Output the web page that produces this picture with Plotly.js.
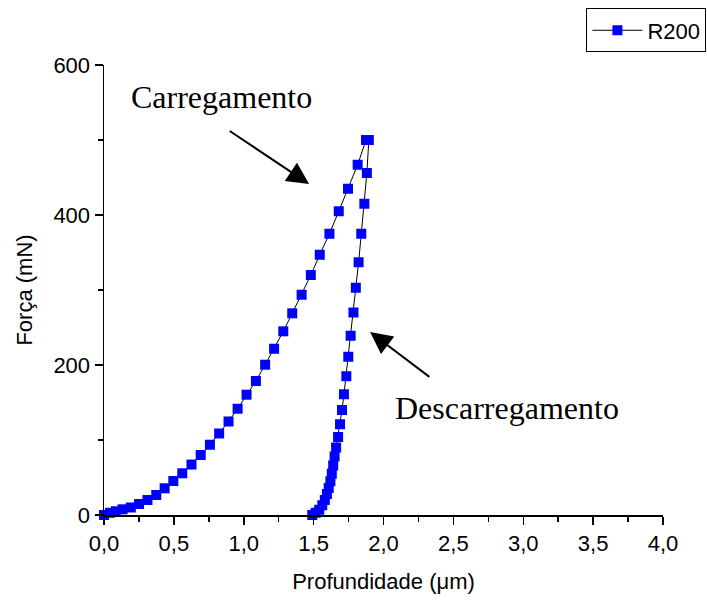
<!DOCTYPE html>
<html>
<head>
<meta charset="utf-8">
<script src="https://cdn.plot.ly/plotly-3.0.1.min.js"></script>
<style>html,body{margin:0;padding:0;background:#fff;}#chart{width:707px;height:601px;}</style>
</head>
<body>
<div id="chart"></div>
<script>
// Loading curve (Carregamento)
var loadDepth = [0.000, 0.043, 0.085, 0.133, 0.192, 0.251, 0.311, 0.374, 0.434, 0.496, 0.560, 0.626, 0.692, 0.758, 0.824, 0.891, 0.956, 1.020, 1.087, 1.153, 1.217, 1.283, 1.347, 1.414, 1.480, 1.544, 1.613, 1.680, 1.746, 1.815, 1.875];
var loadForce = [0, 3, 5, 7.6, 10, 14.7, 20, 26.7, 35.6, 45.3, 55.6, 67.3, 80, 93.7, 108.7, 124.7, 141.7, 160.4, 178.7, 200.4, 221.7, 244.9, 268.9, 293.7, 320, 347, 375, 405, 435, 467, 500];
// Unloading curve (Descarregamento)
var unloadDepth = [1.895, 1.881, 1.863, 1.841, 1.822, 1.802, 1.785, 1.765, 1.748, 1.734, 1.717, 1.703, 1.689, 1.675, 1.661, 1.650, 1.640, 1.630, 1.620, 1.608, 1.595, 1.580, 1.562, 1.540, 1.515, 1.490];
var unloadForce = [500, 456, 415, 375, 337, 303, 270, 239, 211, 185, 161, 140, 121, 104, 90, 78, 66, 55, 45, 36, 28, 20, 13, 7, 3, 0];

var seriesName = 'R200';
var xTicks = [0, 0.5, 1, 1.5, 2, 2.5, 3, 3.5, 4];
var yTicks = [0, 200, 400, 600];

var depth = loadDepth.concat(unloadDepth);
var force = loadForce.concat(unloadForce);

var sans = 'Arial, "Liberation Sans", sans-serif';
var serif = '"Times New Roman", "Liberation Serif", serif';

var trace = {
  x: depth, y: force, type: 'scatter', mode: 'lines+markers', name: seriesName,
  line: {color: '#000000', width: 1},
  marker: {symbol: 'square', size: 10, color: '#0000ff', line: {width: 0}},
  cliponaxis: false
};

var layout = {
  width: 707, height: 601,
  margin: {l: 103.5, r: 43.5, t: 65, b: 86, autoexpand: false},
  paper_bgcolor: '#ffffff', plot_bgcolor: '#ffffff',
  separators: ',.',
  font: {family: sans, color: '#000000', size: 22},
  showlegend: true,
  legend: {x: 0.863, y: 1.1256, xanchor: 'left', yanchor: 'top', bordercolor: '#000000', borderwidth: 1,
           bgcolor: '#ffffff', font: {family: sans, size: 22}, itemwidth: 50},
  xaxis: {
    range: [0, 4], tickvals: xTicks, tickformat: '.1f', showgrid: false, zeroline: false,
    showline: true, linecolor: '#000000', linewidth: 1.5, ticks: 'outside', ticklen: 8, tickwidth: 1.5, tickcolor: '#000000',
    minor: {dtick: 0.25, ticks: 'outside', ticklen: 5, tickwidth: 1.5, tickcolor: '#000000', showgrid: false},
    tickfont: {family: sans, size: 22},
    title: {text: 'Profundidade (\u03bcm)', font: {family: sans, size: 22}, standoff: 18}
  },
  yaxis: {
    range: [0, 600], tickvals: yTicks, showgrid: false, zeroline: false,
    showline: true, linecolor: '#000000', linewidth: 1.5, ticks: 'outside', ticklen: 8, tickwidth: 1.5, tickcolor: '#000000',
    minor: {dtick: 100, ticks: 'outside', ticklen: 5, tickwidth: 1.5, tickcolor: '#000000', showgrid: false},
    tickfont: {family: sans, size: 22},
    title: {text: 'For\u00e7a (mN)', font: {family: sans, size: 22}, standoff: 14}
  },
  annotations: [
    {xref: 'paper', yref: 'paper', x: 0.2098, y: 0.9289, xanchor: 'center', yanchor: 'middle', showarrow: false,
     text: 'Carregamento', font: {family: serif, size: 32, color: '#000000'}},
    {xref: 'paper', yref: 'paper', x: 0.7214, y: 0.2378, xanchor: 'center', yanchor: 'middle', showarrow: false,
     text: 'Descarregamento', font: {family: serif, size: 32, color: '#000000'}},
    {xref: 'x', yref: 'y', axref: 'x', ayref: 'y', x: 1.468, y: 441.3, ax: 0.889, ay: 513.3, text: '',
     showarrow: true, arrowhead: 2, arrowsize: 2.2, arrowwidth: 2, arrowcolor: '#000000', standoff: 0},
    {xref: 'x', yref: 'y', axref: 'x', ayref: 'y', x: 1.904, y: 244, ax: 2.339, ay: 182.7, text: '',
     showarrow: true, arrowhead: 2, arrowsize: 2.2, arrowwidth: 2, arrowcolor: '#000000', standoff: 0}
  ]
};

Plotly.newPlot('chart', [trace], layout, {displayModeBar: false, staticPlot: true});
</script>
</body>
</html>
